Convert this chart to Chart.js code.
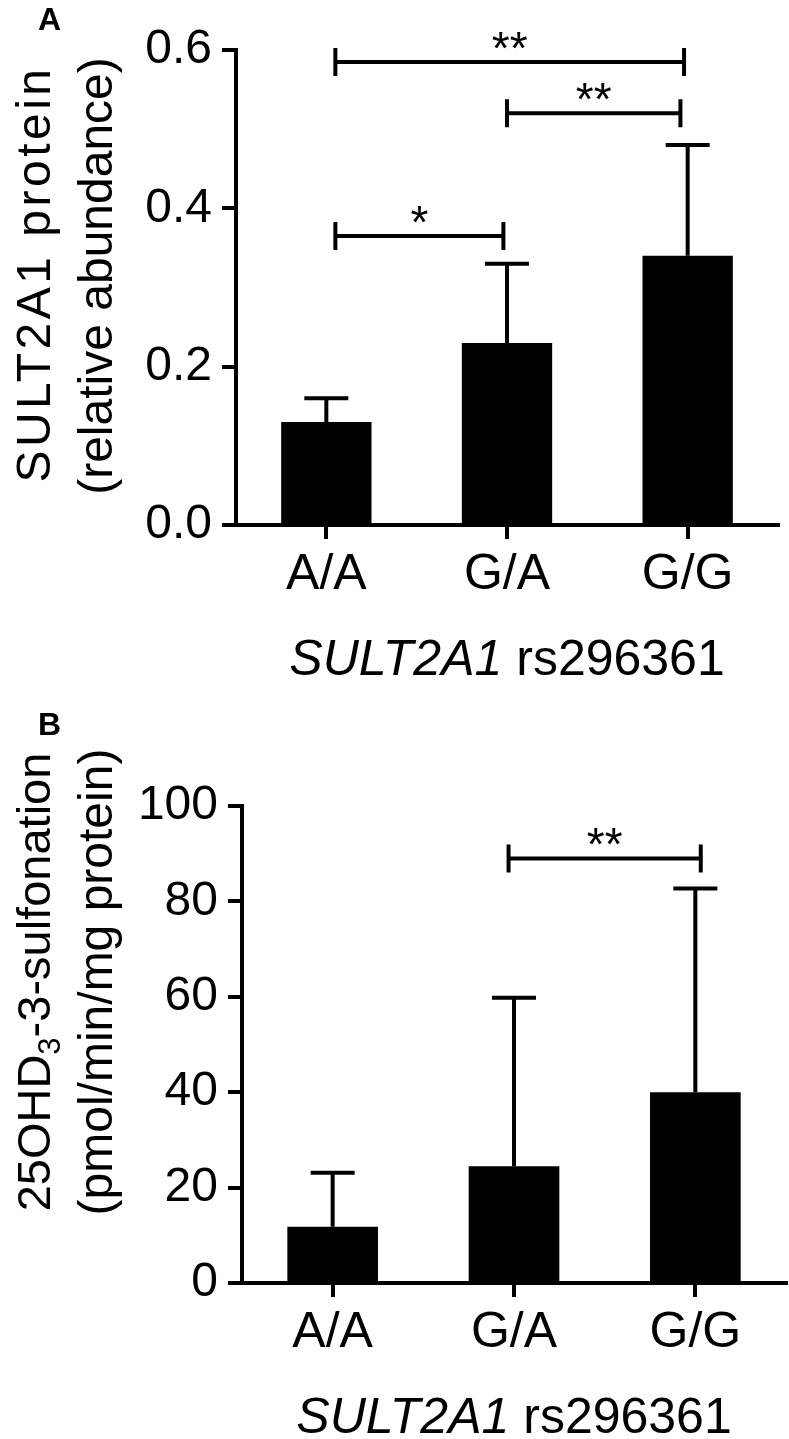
<!DOCTYPE html>
<html>
<head>
<meta charset="utf-8">
<script src="https://cdn.jsdelivr.net/npm/chart.js@4.4.1/dist/chart.umd.min.js"></script>
<style>
html, body { margin: 0; padding: 0; background: #fff; }
canvas { display: block; }
</style>
</head>
<body>
<canvas id="chartA" width="789" height="700"></canvas>
<canvas id="chartB" width="789" height="739"></canvas>
<script>
// data
const genotypes = ['A/A', 'G/A', 'G/G'];

const proteinMean = [0.13, 0.23, 0.34];
const proteinErr = [0.03, 0.10, 0.14];

const sulfMean = [11.8, 24.5, 40.0];
const sulfErr = [11.3, 35.3, 42.7];

// significance brackets (category position from / to, height in data units)
const sigAFrom = [0.05, 1.0, 0.05];
const sigATo = [1.98, 1.96, 0.98];
const sigAY = [0.585, 0.52, 0.365];
const sigALabel = ['**', '**', '*'];

const sigBFrom = [0.97];
const sigBTo = [2.03];
const sigBY = [89];
const sigBLabel = ['**'];

const FONT = "'Liberation Sans', Arial, Helvetica, sans-serif";

function fontOf(p) {
    return (p.italic ? 'italic ' : '') + (p.size || 48) + 'px ' + FONT;
}

// draws a row of text pieces centred on cx (mixed italic / subscript)
function drawParts(ctx, parts, cx, baseY, spacing) {
    ctx.letterSpacing = (spacing || 0) + 'px';
    let total = 0;
    parts.forEach(p => { ctx.font = fontOf(p); total += ctx.measureText(p.text).width; });
    let x = cx - total / 2;
    ctx.textAlign = 'left';
    ctx.textBaseline = 'alphabetic';
    parts.forEach(p => {
        ctx.font = fontOf(p);
        ctx.fillText(p.text, x, baseY + (p.dy || 0));
        x += ctx.measureText(p.text).width;
    });
    ctx.letterSpacing = '0px';
}

function decor(cfg) {
    return {
        id: 'decor',
        afterDatasetsDraw(chart) {
            const ctx = chart.ctx;
            const xs = chart.scales.x;
            const ys = chart.scales.y;
            ctx.save();
            ctx.strokeStyle = '#000';
            ctx.fillStyle = '#000';
            ctx.lineWidth = 4;

            // error bars (upper only)
            cfg.mean.forEach((m, i) => {
                const px = xs.getPixelForValue(i);
                const top = ys.getPixelForValue(m);
                const end = ys.getPixelForValue(m + cfg.err[i]);
                ctx.beginPath();
                ctx.moveTo(px, top);
                ctx.lineTo(px, end);
                ctx.moveTo(px - 22, end);
                ctx.lineTo(px + 22, end);
                ctx.stroke();
            });

            // brackets + stars
            cfg.sigFrom.forEach((f, i) => {
                const x1 = xs.getPixelForValue(f);
                const x2 = xs.getPixelForValue(cfg.sigTo[i]);
                const yy = ys.getPixelForValue(cfg.sigY[i]);
                ctx.beginPath();
                ctx.moveTo(x1, yy); ctx.lineTo(x2, yy);
                ctx.moveTo(x1, yy - 14); ctx.lineTo(x1, yy + 14);
                ctx.moveTo(x2, yy - 14); ctx.lineTo(x2, yy + 14);
                ctx.stroke();
                ctx.font = '46px ' + FONT;
                ctx.textAlign = 'center';
                ctx.textBaseline = 'alphabetic';
                ctx.fillText(cfg.sigLabel[i], (x1 + x2) / 2, yy + 2);
            });
            ctx.restore();
        },
        afterDraw(chart) {
            const ctx = chart.ctx;
            const area = chart.chartArea;
            ctx.save();
            ctx.fillStyle = '#000';

            ctx.font = 'bold 32px ' + FONT;
            ctx.textAlign = 'left';
            ctx.textBaseline = 'alphabetic';
            ctx.fillText(cfg.letter, 38, cfg.letterY);

            drawParts(ctx, cfg.xTitle, (area.left + area.right) / 2, area.bottom + 150, 0);

            cfg.yTitle.forEach(line => {
                ctx.save();
                ctx.translate(line.x, line.y);
                ctx.rotate(-Math.PI / 2);
                drawParts(ctx, line.parts, 0, 0, line.spacing);
                ctx.restore();
            });
            ctx.restore();
        }
    };
}

const xTitleParts = [
    { text: 'SULT2A1', italic: true, size: 50 },
    { text: ' rs296361', size: 50 }
];

function makeChart(id, mean, yMax, yStep, fmt, pad, yWidth, xHeight, deco) {
    return new Chart(document.getElementById(id), {
        type: 'bar',
        data: {
            labels: genotypes,
            datasets: [{
                data: mean,
                backgroundColor: '#000',
                borderWidth: 0,
                barPercentage: 0.5,
                categoryPercentage: 1
            }]
        },
        options: {
            responsive: false,
            animation: false,
            devicePixelRatio: 1,
            layout: { padding: pad },
            plugins: { legend: { display: false }, tooltip: { enabled: false } },
            scales: {
                x: {
                    grid: { drawOnChartArea: false, offset: false, tickLength: 14, lineWidth: 4, color: '#000' },
                    border: { color: '#000', width: 4 },
                    ticks: { color: '#000', padding: 6, font: { family: FONT, size: 50 } },
                    afterFit: s => { s.height = xHeight; }
                },
                y: {
                    min: 0,
                    max: yMax,
                    grid: { drawOnChartArea: false, tickLength: 14, lineWidth: 4, color: '#000' },
                    border: { color: '#000', width: 4 },
                    ticks: { stepSize: yStep, color: '#000', padding: 10, font: { family: FONT, size: 48 }, callback: fmt },
                    afterFit: s => { s.width = yWidth; }
                }
            }
        },
        plugins: [deco]
    });
}

makeChart('chartA', proteinMean, 0.6, 0.2, v => v.toFixed(1),
    { top: 50, right: 11, left: 0, bottom: 0 }, 236, 175,
    decor({
        mean: proteinMean, err: proteinErr,
        sigFrom: sigAFrom, sigTo: sigATo, sigY: sigAY, sigLabel: sigALabel,
        letter: 'A', letterY: 30,
        xTitle: xTitleParts,
        yTitle: [
            { x: 50, y: 274, spacing: 3.5, parts: [{ text: 'SULT2A1 protein' }] },
            { x: 112, y: 276, spacing: 0, parts: [{ text: '(relative abundance)' }] }
        ]
    }));

makeChart('chartB', sulfMean, 100, 20, v => v,
    { top: 106, right: 3, left: 0, bottom: 0 }, 242, 156,
    decor({
        mean: sulfMean, err: sulfErr,
        sigFrom: sigBFrom, sigTo: sigBTo, sigY: sigBY, sigLabel: sigBLabel,
        letter: 'B', letterY: 35,
        xTitle: xTitleParts,
        yTitle: [
            { x: 50, y: 282, spacing: 0, parts: [
                { text: '25OHD', size: 47 },
                { text: '3', size: 31, dy: 10 },
                { text: '-3-sulfonation', size: 47 }
            ] },
            { x: 112, y: 282, spacing: 0, parts: [{ text: '(pmol/min/mg protein)' }] }
        ]
    }));
</script>
</body>
</html>
